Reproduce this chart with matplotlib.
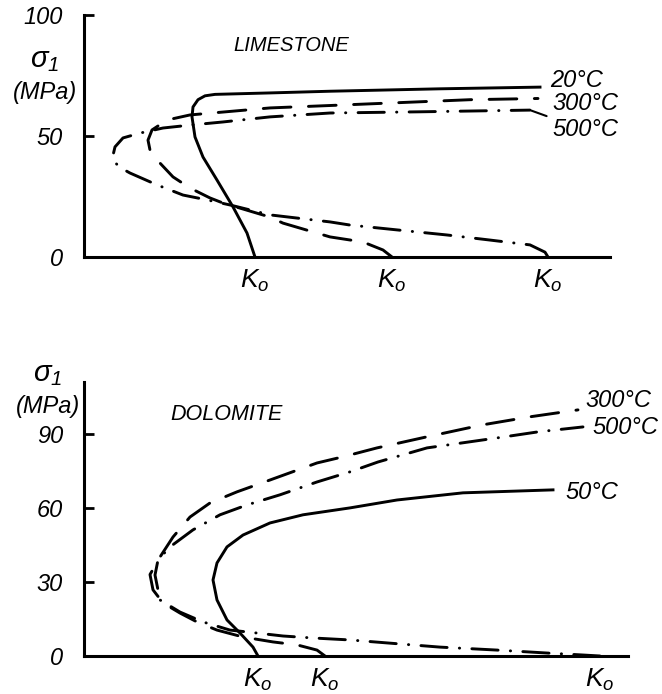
import numpy as np
import matplotlib
matplotlib.use('Agg')
from matplotlib import pyplot as plt

plt.rcParams['font.family'] = ['Liberation Sans', 'DejaVu Sans']
plt.rcParams['font.style'] = 'italic'
plt.rcParams['mathtext.fontset'] = 'custom'
plt.rcParams['mathtext.it'] = 'Liberation Sans:italic'
plt.rcParams['mathtext.rm'] = 'Liberation Sans:italic'

#%% Limestone curves: lateral stress (relative units) vs sigma_1 (MPa)
lime_20_x = [1.71, 1.63, 1.49, 1.33, 1.19, 1.11, 1.08, 1.09, 1.14, 1.21, 1.31, 1.86, 2.46, 3.56, 4.56]
lime_20_s = [0, 9.9, 20.7, 31.8, 41.3, 49.6, 57.9, 62.0, 65.0, 66.6, 67.2, 67.8, 68.5, 69.5, 70.2]

lime_300_x = [3.08, 2.99, 2.79, 2.46, 1.99, 1.86, 1.56, 1.39, 1.26, 1.06, 0.89, 0.76, 0.66, 0.64,
              0.68, 0.83, 1.06, 1.39, 1.86, 2.46, 3.16, 3.86, 4.54]
lime_300_s = [0, 2.9, 6.2, 8.3, 14.0, 16.5, 20.2, 22.3, 24.4, 28.5, 33.1, 38.8, 44.2, 48.3,
              52.5, 56.6, 58.7, 59.9, 61.6, 62.6, 63.8, 65.0, 65.5]

lime_500_x = [4.64, 4.61, 4.46, 4.06, 3.63, 3.13, 2.66, 2.46, 1.86, 1.46, 1.23, 0.99, 0.73,
              0.46, 0.36, 0.30, 0.29, 0.31, 0.39, 0.56, 0.79, 1.06, 1.39, 1.86, 2.46, 3.36, 4.46]
lime_500_s = [0, 2.0, 5.0, 7.0, 9.1, 11.2, 13.2, 14.5, 17.4, 21.5, 23.6, 25.6, 29.8,
              34.7, 37.0, 39.5, 42.0, 45.5, 49.2, 51.2, 53.3, 54.5, 55.8, 57.9, 59.5, 60.0, 60.7]

#%% Dolomite curves
dolo_50_x = [1.74, 1.69, 1.56, 1.43, 1.33, 1.29, 1.33, 1.43, 1.59, 1.86, 2.19, 2.66, 3.13, 3.79, 4.69]
dolo_50_s = [0, 3.6, 9.3, 14.6, 22.7, 30.8, 37.7, 44.2, 49.0, 53.9, 57.2, 60.0, 63.2, 66.1, 67.3]

dolo_300_x = [2.41, 2.33, 2.13, 1.89, 1.59, 1.33, 1.13, 0.96, 0.79, 0.69, 0.66, 0.76, 0.89,
              1.06, 1.26, 1.53, 1.86, 2.33, 2.59, 2.93, 3.43, 3.98, 4.46, 4.94]
dolo_300_s = [0, 2.4, 4.5, 5.7, 7.7, 10.5, 13.8, 17.4, 21.5, 26.8, 33.0, 40.1, 48.2,
              56.3, 62.0, 66.5, 71.3, 78.2, 80.7, 84.3, 88.8, 93.6, 96.9, 99.7]

dolo_500_x = [5.16, 4.99, 4.63, 4.13, 3.56, 3.03, 2.66, 2.29, 1.99, 1.73, 1.46, 1.19, 0.96,
              0.76, 0.71, 0.74, 0.86, 1.09, 1.36, 1.63, 1.96, 2.33, 2.66, 2.94, 3.43, 4.14, 4.54, 4.99]
dolo_500_s = [0, 0.4, 1.2, 2.4, 3.6, 5.3, 6.5, 7.3, 8.1, 9.3, 10.5, 13.8, 17.8,
              22.7, 32.8, 38.9, 44.2, 51.1, 57.2, 61.2, 65.3, 70.5, 74.6, 78.6, 84.3, 88.4, 90.8, 92.8]

dash_300 = (9.5, 6)
dash_500 = (9, 4.2, 0.1, 4.2)
lw = 2.1
fs = 17

fig = plt.figure(figsize=(6.62, 6.94), dpi=100)

ax1 = fig.add_axes([84/662, 1 - 257/694, 526/662, 242/694])
ax2 = fig.add_axes([84/662, 1 - 656/694, 544/662, 274/694])

for ax in (ax1, ax2):
    ax.spines['top'].set_visible(False)
    ax.spines['right'].set_visible(False)
    ax.spines['left'].set_linewidth(2.2)
    ax.spines['bottom'].set_linewidth(2.2)
    ax.tick_params(axis='y', direction='in', length=7, width=2, labelsize=fs, pad=15)
    ax.tick_params(axis='x', length=0, labelsize=19, pad=8)


def draw(ax, x, s, dashes=None):
    if dashes is None:
        ax.plot(x, s, color='black', lw=lw, solid_joinstyle='round')
    else:
        ax.plot(x, s, color='black', lw=lw, dashes=dashes, dash_capstyle='round',
                dash_joinstyle='round')


#%% Limestone
draw(ax1, lime_20_x, lime_20_s)
draw(ax1, lime_300_x, lime_300_s, dash_300)
draw(ax1, lime_500_x, lime_500_s, dash_500)
ax1.set_xlim(0, 5.26)
ax1.set_ylim(0, 100)
ax1.set_yticks([0, 50, 100])
ax1.set_xticks([lime_20_x[0], lime_300_x[0], lime_500_x[0]])
ax1.set_xticklabels(['$K_o$'] * 3)

ax1.text(4.66, 73.1, '20°C', fontsize=fs, va='center', ha='left')
ax1.text(4.68, 63.6, '300°C', fontsize=fs, va='center', ha='left')
ax1.annotate('500°C', xy=(lime_500_x[-1], lime_500_s[-1]), xytext=(4.68, 52.5),
             fontsize=fs, va='center', ha='left',
             arrowprops=dict(arrowstyle='-', lw=1.5, color='black', shrinkA=2, shrinkB=1))
ax1.text(1.49, 87.6, 'LIMESTONE', fontsize=14.5, va='center', ha='left')

#%% Dolomite
draw(ax2, dolo_50_x, dolo_50_s)
draw(ax2, dolo_300_x, dolo_300_s, dash_300)
draw(ax2, dolo_500_x, dolo_500_s, dash_500)
ax2.set_xlim(0, 5.44)
ax2.set_ylim(0, 111)
ax2.set_yticks([0, 30, 60, 90])
ax2.set_xticks([dolo_50_x[0], dolo_300_x[0], dolo_500_x[0]])
ax2.set_xticklabels(['$K_o$'] * 3)

ax2.text(5.01, 103.4, '300°C', fontsize=fs, va='center', ha='left')
ax2.text(5.08, 92.4, '500°C', fontsize=fs, va='center', ha='left')
ax2.text(4.81, 66.1, '50°C', fontsize=fs, va='center', ha='left')
ax2.text(0.86, 98, 'DOLOMITE', fontsize=15.5, va='center', ha='left')

# axis titles stacked above the y tick labels
fig.text(45/662, 1 - 60/694, r'$\sigma_1$', fontsize=21, ha='center', va='center')
fig.text(45/662, 1 - 92/694, '(MPa)', fontsize=fs, ha='center', va='center')
fig.text(48/662, 1 - 374/694, r'$\sigma_1$', fontsize=21, ha='center', va='center')
fig.text(48/662, 1 - 406/694, '(MPa)', fontsize=fs, ha='center', va='center')

fig.savefig('out.png', dpi=100)
